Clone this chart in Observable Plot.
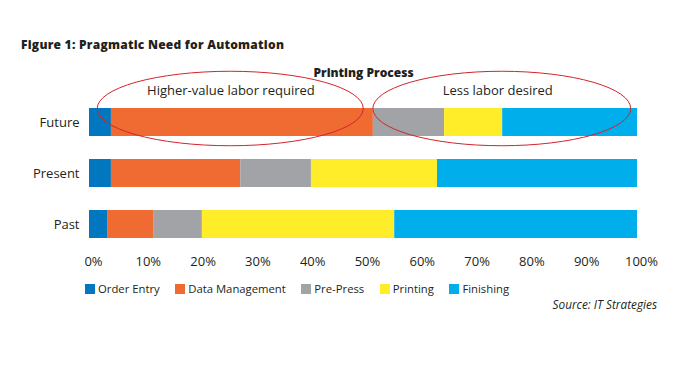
<!DOCTYPE html>
<html><head><meta charset="utf-8">
<script src="https://cdn.jsdelivr.net/npm/d3@7"></script>
<script src="https://cdn.jsdelivr.net/npm/@observablehq/plot@0.6"></script>
<style>
body{margin:0;background:#fff;font-family:"Open Sans",sans-serif;color:#231F20;width:700px;height:367px;overflow:hidden}
#title{height:56px;box-sizing:border-box;padding:37px 0 0 21px;font-weight:800;font-size:12px;letter-spacing:0.25px;line-height:16px}
#chart svg{display:block}
#legend{display:flex;align-items:center;height:18px;padding-left:85px;font-size:11.3px;line-height:18px}
.item{display:flex;align-items:center;margin-right:15.5px}
.sw{width:10px;height:10.5px;margin-right:3px}
#source{height:12px;line-height:12px;text-align:right;padding-right:43px;font-style:italic;font-size:11.8px}
</style>
</head><body>
<div id="title">Figure 1: Pragmatic Need for Automation</div>
<div id="chart"></div>
<div id="legend"></div>
<div id="source">Source: IT Strategies</div>
<script>
const categories = ["Future", "Present", "Past"];
const series = ["Order Entry", "Data Management", "Pre-Press", "Printing", "Finishing"];
const colors = ["#0077BE", "#F06B31", "#A2A3A6", "#FFED29", "#00AEEB"];
const futureValues = [4.0, 47.8, 13.0, 10.6, 24.6];
const presentValues = [4.0, 23.6, 12.9, 23.0, 36.5];
const pastValues = [3.3, 8.4, 8.9, 35.1, 44.3];
const tickValues = [0, 10, 20, 30, 40, 50, 60, 70, 80, 90, 100];
const chartSubtitle = "Printing Process";
const annoLabels = ["Higher-value labor required", "Less labor desired"];
const annoX0 = [1.5, 51.8];
const annoX1 = [50.05, 98.85];
const annoTextX = [25.8, 74.5];

const valuesByCat = {Future: futureValues, Present: presentValues, Past: pastValues};
const rows = [];
for (const c of categories) series.forEach((s, i) => rows.push({category: c, series: s, value: valuesByCat[c][i]}));
const annos = annoLabels.map((l, i) => ({label: l, x0: annoX0[i], x1: annoX1[i], tx: annoTextX[i]}));

const hasAxisMarks = typeof Plot.axisX === "function";
const marks = [
  Plot.barX(rows, Plot.stackX({x: "value", y: "category", fill: "series"})),
  Plot.text(annos, {x: "tx", y: () => "Future", text: "label", dy: -32, fontSize: 13, fill: "#231F20"}),
  Plot.text([chartSubtitle], {x: () => 50, y: () => "Future", text: d => d, dy: -49.5, fontSize: 12, fontWeight: 800, fill: "#231F20", letterSpacing: "0.3px"})
];
if (hasAxisMarks) {
  marks.push(Plot.axisX({ticks: tickValues, tickFormat: d => d + "%", tickSize: 0, tickPadding: 6, dx: 4, fontSize: 13, label: null, fill: "#231F20"}));
  marks.push(Plot.axisY({tickSize: 0, tickPadding: 10, fontSize: 13, label: null, fill: "#231F20"}));
}
const chart = Plot.plot({
  width: 700, height: 224,
  marginLeft: 89, marginRight: 63, marginTop: 41, marginBottom: 30,
  style: {fontFamily: "Open Sans, sans-serif", fontSize: "13px", color: "#231F20", background: "#fff"},
  x: {domain: [0, 100], ticks: tickValues, tickFormat: d => d + "%", tickSize: 0, tickPadding: 6, label: null, ...(hasAxisMarks ? {axis: null} : {})},
  y: {domain: categories, paddingInner: 0.45, paddingOuter: 0.2, tickSize: 0, tickPadding: 10, label: null, ...(hasAxisMarks ? {axis: null} : {})},
  color: {domain: series, range: colors},
  marks
});
document.getElementById("chart").appendChild(chart);

// ellipse annotations using Plot's scales
const xs = chart.scale("x"), ys = chart.scale("y");
const svg = d3.select(chart);
const yTop = ys.apply("Future");
const bw = ys.bandwidth;
annos.forEach(a => {
  const p0 = xs.apply(a.x0), p1 = xs.apply(a.x1);
  svg.append("ellipse")
    .attr("cx", (p0 + p1) / 2).attr("cy", yTop + 0.5)
    .attr("rx", (p1 - p0) / 2).attr("ry", bw * 1.33)
    .attr("fill", "none").attr("stroke", "#D4232C").attr("stroke-width", 1);
});

// legend
const lg = d3.select("#legend");
series.forEach((s, i) => {
  const it = lg.append("div").attr("class", "item");
  it.append("div").attr("class", "sw").style("background", colors[i]);
  it.append("span").text(s);
});
</script>
</body></html>
